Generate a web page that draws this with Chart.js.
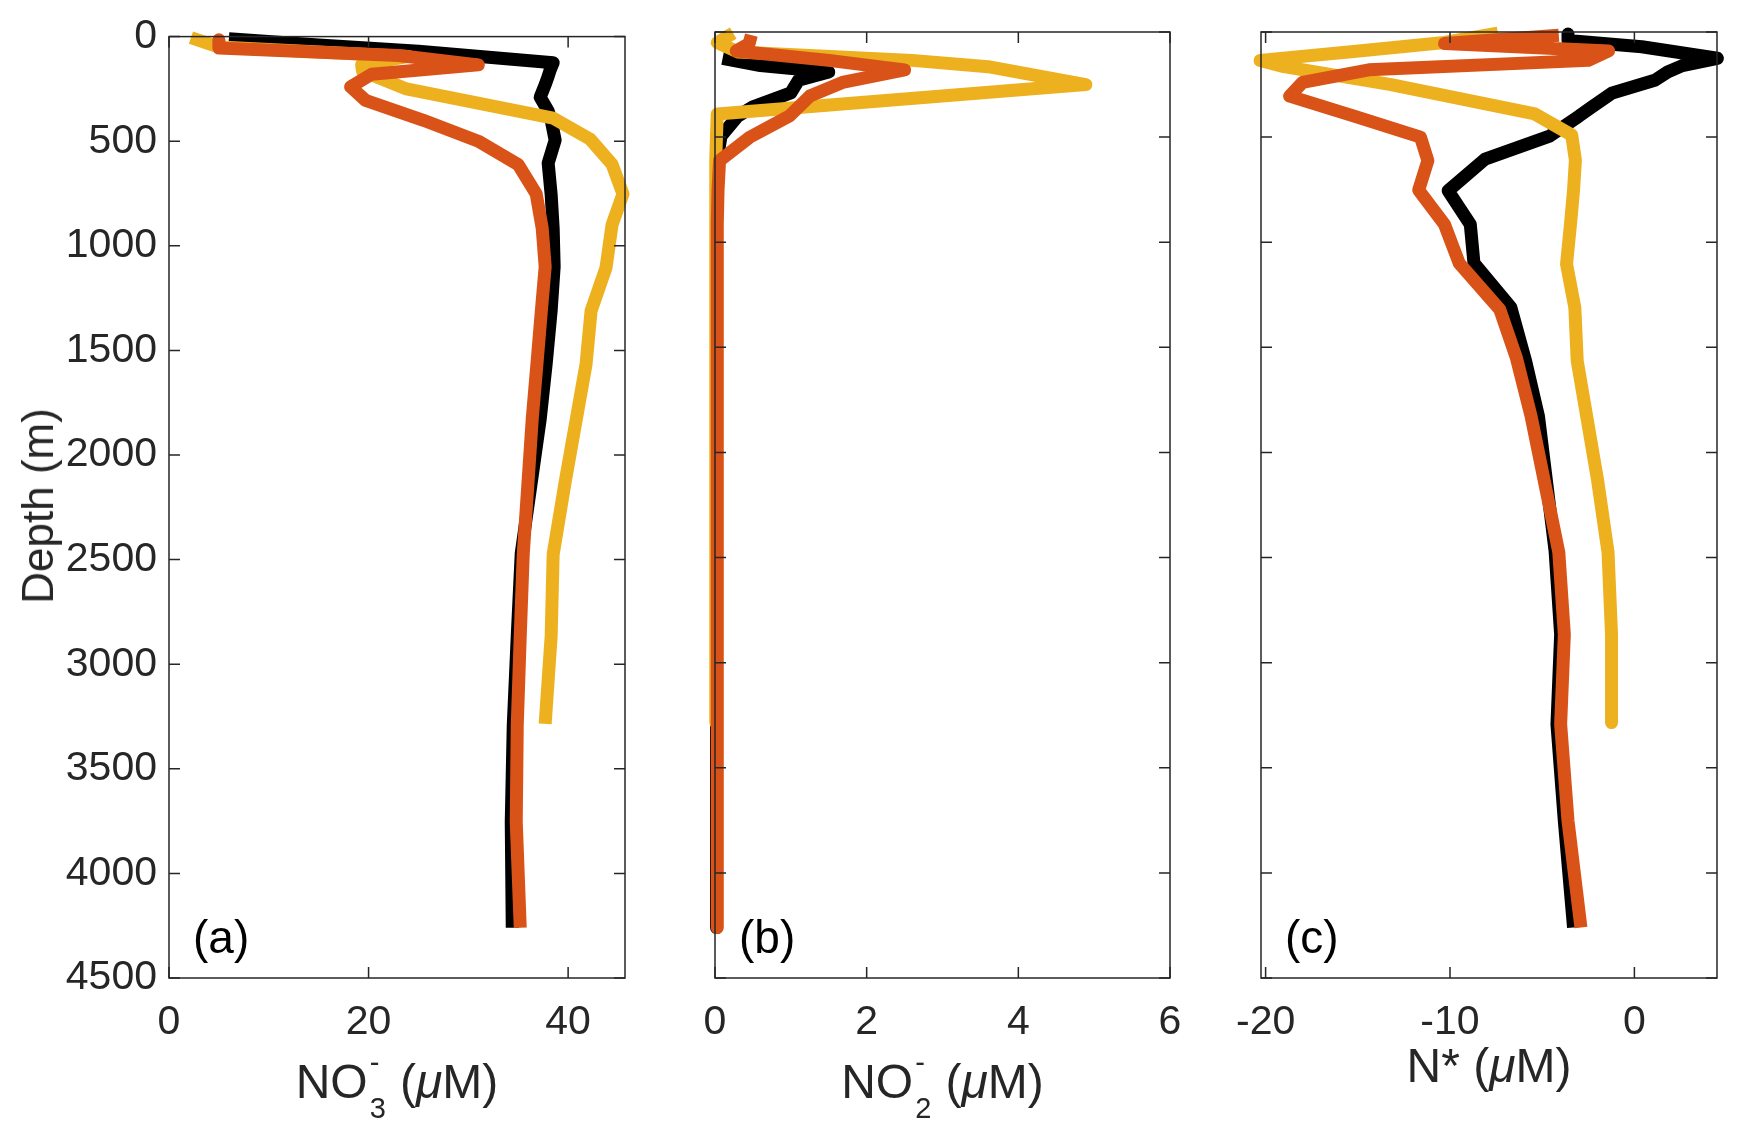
<!DOCTYPE html>
<html lang="en">
<head>
<meta charset="UTF-8">
<title>Nitrate, nitrite and N* profiles</title>
<script src="https://cdn.jsdelivr.net/npm/chart.js"></script>
<style>
    body { margin: 0; background: #fff; }
    #wrap { position: relative; width: 1742px; height: 1136px; background: #fff; overflow: hidden;
            font-family: "Liberation Sans", Arial, sans-serif; color: #262626; }
    #wrap canvas { position: absolute; left: 0; top: 0; }
    .xt { position: absolute; text-align: center; font-size: 48px; line-height: 48px; white-space: nowrap; }
    .ss { display: inline-block; position: relative; width: 19px; height: 48px; }
    .ss span { position: absolute; left: 2px; font-size: 29px; line-height: 29px; }
    .ss .up { top: -2px; }
    .ss .dn { top: 44px; }
    .mu { font-style: italic; }
    .yt { position: absolute; left: 38px; top: 506px; font-size: 44px; line-height: 44px; white-space: nowrap;
          transform: translate(-50%, -50%) rotate(-90deg); }
    .pl { position: absolute; font-size: 46px; line-height: 46px; color: #000; }
</style>
</head>
<body>
<div id="wrap">
    <canvas id="chartA" width="1742" height="1136"></canvas>
    <canvas id="chartB" width="1742" height="1136"></canvas>
    <canvas id="chartC" width="1742" height="1136"></canvas>

    <div class="yt">Depth (m)</div>
    <div class="xt" style="left:169px; width:456px; top:1050px;">NO<span class="ss"><span class="up">-</span><span class="dn">3</span></span> (<span class="mu">&mu;</span>M)</div>
    <div class="xt" style="left:715px; width:455px; top:1050px;">NO<span class="ss"><span class="up">-</span><span class="dn">2</span></span> (<span class="mu">&mu;</span>M)</div>
    <div class="xt" style="left:1261px; width:456px; top:1042px;">N* (<span class="mu">&mu;</span>M)</div>
    <div class="pl" style="left:193px; top:914px;">(a)</div>
    <div class="pl" style="left:739px; top:914px;">(b)</div>
    <div class="pl" style="left:1285px; top:914px;">(c)</div>
</div>

<script>
// depth tick labels (m)
const depthTicks = [0, 500, 1000, 1500, 2000, 2500, 3000, 3500, 4000, 4500];
const no3Ticks = [0, 20, 40];
const no2Ticks = [0, 2, 4, 6];
const nstarTicks = [-20, -10, 0];

// black profile (no nitrite reading above 125 m)
const blackDepth = [10, 40, 70, 125, 160, 190, 230, 290, 356, 400, 495, 605, 755, 915, 1100, 1310, 1565, 1829, 2470, 2866, 3293, 3753, 4260];
const blackNO3 = [6.0, 15.0, 25.0, 38.5, 38.2, 38.0, 37.7, 37.2, 38.0, 38.3, 38.7, 38.0, 38.3, 38.5, 38.6, 38.3, 37.8, 37.2, 35.3, 34.9, 34.5, 34.3, 34.4];
const blackNO2 = [null, null, null, 0.1, 0.6, 1.5, 1.1, 1.0, 0.5, 0.3, 0.08, 0.03, 0.02, 0.02, 0.02, 0.02, 0.02, 0.02, 0.02, 0.02, 0.02, 0.02, 0.02];
const blackNstar = [-3.6, -3.6, 0.4, 4.5, 2.6, 1.8, 1.1, -1.2, -2.3, -3.0, -4.6, -8.1, -10.1, -8.9, -8.7, -6.7, -5.9, -5.2, -4.3, -4.0, -4.2, -3.8, -3.3];

// orange profile
const orangeDepth = [15, 55, 90, 135, 180, 240, 305, 400, 500, 612, 752, 915, 1100, 1320, 1550, 1829, 2475, 2866, 3293, 3753, 4260];
const orangeNO3 = [5.0, 5.0, 23.0, 31.0, 20.3, 18.2, 19.7, 25.5, 31.0, 35.0, 36.8, 37.4, 37.7, 37.3, 36.9, 36.4, 35.5, 35.2, 34.9, 34.8, 35.2];
const orangeNO2 = [0.48, 0.45, 0.28, 1.5, 2.5, 1.68, 1.25, 0.98, 0.46, 0.06, 0.04, 0.03, 0.03, 0.03, 0.03, 0.03, 0.03, 0.03, 0.03, 0.03, 0.03];
const orangeNstar = [-4.1, -10.3, -1.4, -2.5, -14.4, -18.0, -18.7, -15.2, -11.6, -11.2, -11.7, -10.3, -9.5, -7.3, -6.4, -5.6, -4.1, -3.8, -4.0, -3.6, -2.9];

// yellow profile
const yellowDepth = [5, 50, 95, 135, 165, 250, 390, 490, 610, 752, 900, 1104, 1311, 1565, 2130, 2475, 2866, 3285];
const yellowNO3 = [2.2, 5.0, 24.0, 19.3, 19.4, 23.8, 38.5, 42.2, 44.4, 45.5, 44.4, 43.8, 42.3, 41.8, 39.7, 38.5, 38.3, 37.7];
const yellowNO2 = [0.24, 0.03, 0.3, 2.6, 3.6, 4.89, 0.03, 0.02, 0.01, 0.01, 0.01, 0.01, 0.01, 0.01, 0.01, 0.01, 0.01, 0.01];
const yellowNstar = [-7.4, -10.3, -15.5, -20.3, -19.0, -13.2, -5.4, -3.4, -3.2, -3.3, -3.45, -3.68, -3.23, -3.1, -2.0, -1.43, -1.24, -1.24];

const BLACK = '#000000', ORANGE = '#D95319', YELLOW = '#EDB120', AXIS = '#262626';
const W = 1742, H = 1136, TOP = 32, BOTTOM = 978;
const Y_AXIS_W = 160, X_AXIS_H = 70;
const TICK_FONT = { family: '"Liberation Sans", Arial, sans-serif', size: 41 };

function pts(values, depths) {
    return values.map((v, i) => ({x: v, y: v === null ? null : depths[i]}));
}

// box round the axes with the ticks pointing inwards
const boxTicks = {
    id: 'boxTicks',
    afterDatasetsDraw(chart) {
        const {left, right, top, bottom} = chart.chartArea;
        const ctx = chart.ctx;
        const xs = chart.scales.x, ys = chart.scales.y;
        const len = 11;
        ctx.save();
        ctx.strokeStyle = AXIS;
        ctx.lineWidth = 1.5;
        ctx.beginPath();
        xs.ticks.forEach(t => {
            const px = xs.getPixelForValue(t.value);
            ctx.moveTo(px, bottom); ctx.lineTo(px, bottom - len);
            ctx.moveTo(px, top); ctx.lineTo(px, top + len);
        });
        ys.ticks.forEach(t => {
            const py = ys.getPixelForValue(t.value);
            ctx.moveTo(left, py); ctx.lineTo(left + len, py);
            ctx.moveTo(right, py); ctx.lineTo(right - len, py);
        });
        ctx.stroke();
        ctx.strokeRect(left, top, right - left, bottom - top);
        ctx.restore();
    }
};

function makePanel(id, left, right, xMin, xMax, xTicks, showDepth, series) {
    const ctx = document.getElementById(id).getContext('2d');
    return new Chart(ctx, {
        type: 'scatter',
        data: {
            datasets: series.map((s, i) => ({
                data: s.data,
                borderColor: s.color,
                backgroundColor: s.color,
                borderWidth: 13,
                borderJoinStyle: 'round',
                borderCapStyle: 'butt',
                showLine: true,
                spanGaps: false,
                pointRadius: 0,
                pointHoverRadius: 0,
                clip: false,
                order: i
            }))
        },
        options: {
            responsive: false,
            animation: false,
            events: [],
            layout: { padding: { left: left - Y_AXIS_W, right: W - right, top: TOP, bottom: H - BOTTOM - X_AXIS_H } },
            plugins: { legend: { display: false }, tooltip: { enabled: false } },
            scales: {
                x: {
                    type: 'linear',
                    position: 'bottom',
                    min: xMin,
                    max: xMax,
                    afterBuildTicks: axis => { axis.ticks = xTicks.map(v => ({value: v})); },
                    afterFit: axis => { axis.height = X_AXIS_H; },
                    grid: { display: false, drawTicks: false },
                    border: { display: false },
                    ticks: {
                        color: AXIS,
                        padding: 20,
                        maxRotation: 0,
                        autoSkip: false,
                        font: TICK_FONT,
                        callback: v => String(v)
                    }
                },
                y: {
                    type: 'linear',
                    position: 'left',
                    reverse: true,
                    min: 0,
                    max: 4500,
                    afterBuildTicks: axis => { axis.ticks = depthTicks.map(v => ({value: v})); },
                    afterFit: axis => { axis.width = Y_AXIS_W; },
                    grid: { display: false, drawTicks: false },
                    border: { display: false },
                    ticks: {
                        display: showDepth,
                        color: AXIS,
                        padding: 12,
                        autoSkip: false,
                        font: TICK_FONT,
                        callback: v => String(v)
                    }
                }
            }
        },
        plugins: [boxTicks]
    });
}

// orange on top, then yellow, black underneath
makePanel('chartA', 169, 625, 0, 45.7, no3Ticks, true, [
    {data: pts(orangeNO3, orangeDepth), color: ORANGE},
    {data: pts(yellowNO3, yellowDepth), color: YELLOW},
    {data: pts(blackNO3, blackDepth), color: BLACK}
]);
makePanel('chartB', 715, 1170, 0, 6, no2Ticks, false, [
    {data: pts(orangeNO2, orangeDepth), color: ORANGE},
    {data: pts(yellowNO2, yellowDepth), color: YELLOW},
    {data: pts(blackNO2, blackDepth), color: BLACK}
]);
makePanel('chartC', 1261, 1717, -20.25, 4.48, nstarTicks, false, [
    {data: pts(orangeNstar, orangeDepth), color: ORANGE},
    {data: pts(yellowNstar, yellowDepth), color: YELLOW},
    {data: pts(blackNstar, blackDepth), color: BLACK}
]);
</script>
</body>
</html>
